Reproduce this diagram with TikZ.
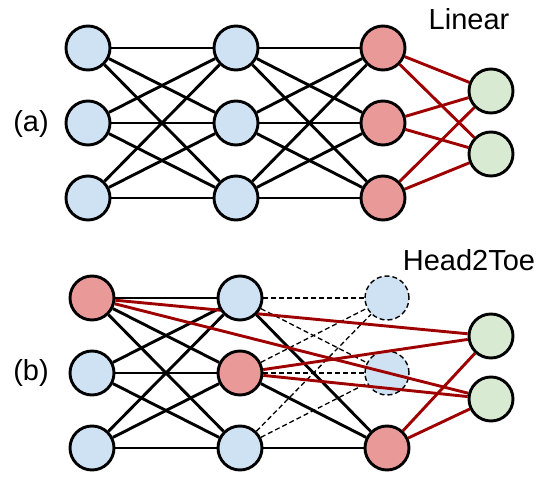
\documentclass[tikz,border=0pt]{standalone}
\usepackage{fontspec}
\setmainfont{Liberation Sans}
\definecolor{cblue}{HTML}{CFE2F3}
\definecolor{cred}{HTML}{EA9999}
\definecolor{cgreen}{HTML}{D9EAD3}
\definecolor{cdred}{HTML}{9E0000}
\pgfdeclarelayer{bottom}
\pgfdeclarelayer{lines}
\pgfsetlayers{bottom,lines,main}
\begin{document}
\begin{tikzpicture}[x=1pt,y=-1pt,
  neuron/.style={circle,draw=black,line width=2.9pt,minimum size=44pt,inner sep=0pt},
  nblue/.style={neuron,fill=cblue},
  nred/.style={neuron,fill=cred},
  ngreen/.style={neuron,fill=cgreen},
  ghost/.style={circle,draw=black,line width=1.4pt,dash pattern=on 5pt off 3pt,minimum size=44pt,inner sep=0pt,fill=cblue},
  conn/.style={line width=2.9pt,black},
  rconn/.style={line width=2.9pt,cdred},
  dconn/.style={line width=1.3pt,black,dash pattern=on 5pt off 3pt},
  lbl/.style={font=\fontsize{29}{30}\selectfont,inner sep=0pt}
]
\path[use as bounding box] (0,0) rectangle (544,484);

% ---------- (a) ----------
\node[nblue] (a11) at (88,48) {};
\node[nblue] (a12) at (88,123) {};
\node[nblue] (a13) at (88,198) {};
\node[nblue] (a21) at (236,48) {};
\node[nblue] (a22) at (236,123) {};
\node[nblue] (a23) at (236,198) {};
\node[nred] (a31) at (383,48) {};
\node[nred] (a32) at (383,123) {};
\node[nred] (a33) at (383,198) {};
\node[ngreen] (ao1) at (491,91) {};
\node[ngreen] (ao2) at (491,154) {};

\node[lbl,anchor=base] (tlin) at (469,30) {Linear};
\node[lbl] (ta) at (31,124) {(a)};

% ---------- (b) ----------
\node[nred] (b11) at (92,298) {};
\node[nblue] (b12) at (92,373) {};
\node[nblue] (b13) at (92,448) {};
\node[nblue] (b21) at (240,298) {};
\node[nred] (b22) at (240,373) {};
\node[nblue] (b23) at (240,448) {};
\begin{pgfonlayer}{bottom}
\node[ghost] (bd1) at (387,298) {};
\node[ghost] (bd2) at (387,373) {};
\end{pgfonlayer}
\node[nred] (b33) at (387,448) {};
\node[ngreen] (bo1) at (491,336) {};
\node[ngreen] (bo2) at (491,399) {};

\node[lbl,anchor=base] (th2t) at (469,270) {Head2Toe};
\node[lbl] (tb) at (31,373) {(b)};

\begin{pgfonlayer}{lines}
% (a) connections
\foreach \i in {1,2,3} {
  \foreach \j in {1,2,3} {
    \draw[conn] (a1\i) -- (a2\j);
    \draw[conn] (a2\i) -- (a3\j);
  }
  \foreach \k in {1,2} {
    \draw[rconn] (a3\i) -- (ao\k);
  }
}
% (b) connections
\foreach \i in {1,2,3} {
  \foreach \j in {1,2,3} {
    \draw[conn] (b1\i) -- (b2\j);
  }
  \draw[conn] (b2\i) -- (b33);
  \draw[dconn] (b2\i) -- (bd1);
  \draw[dconn] (b2\i) -- (bd2);
}
\foreach \k in {1,2} {
  \draw[rconn] (b11) -- (bo\k);
  \draw[rconn] (b22) -- (bo\k);
  \draw[rconn] (b33) -- (bo\k);
}
\end{pgfonlayer}
\end{tikzpicture}
\end{document}
